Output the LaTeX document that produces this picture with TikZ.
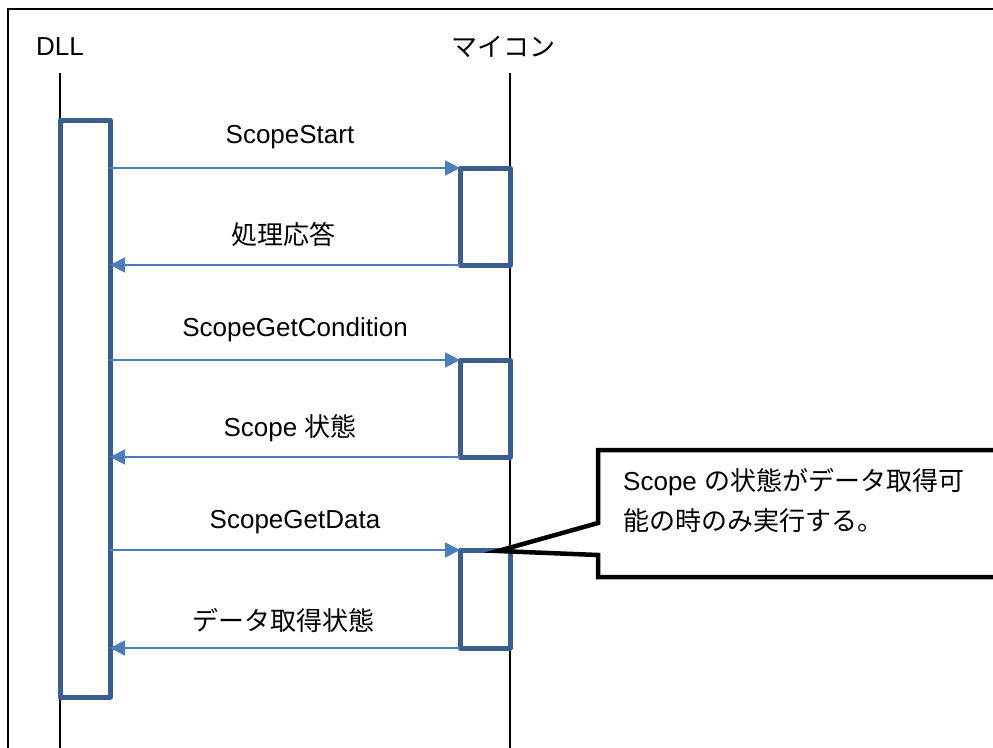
\documentclass[tikz,border=0pt]{standalone}
\usepackage{fontspec}
\setmainfont{Liberation Sans}
\newfontfamily\cjk{Noto Sans CJK JP}
\usetikzlibrary{arrows.meta}
\definecolor{actblue}{HTML}{3A5F8F}
\definecolor{msgblue}{HTML}{4A7EBB}
\tikzset{
  life/.style={line width=1.3pt, black},
  actbox/.style={draw=actblue, line width=5pt, fill=white, rectangle, inner sep=0pt, outer sep=0pt, minimum width=50pt, line join=round},
  msg/.style={draw=msgblue, line width=1.8pt, -{Triangle[length=15pt,width=15pt]}},
  lbl/.style={font=\fontsize{26}{40}\selectfont, inner sep=0pt},
  callout/.style={draw=black, line width=4.5pt, fill=white, line join=miter}
}
\begin{document}
\begin{tikzpicture}[x=1pt,y=-1pt]
\useasboundingbox (0,0) rectangle (993,747);
\clip (0,0) rectangle (993,747);
% frame
\draw[line width=2.2pt] (8,760) -- (8,9) -- (1000,9);
% headers
\node[lbl] (dll) at (60,47) {DLL};
\node[lbl] (mc) at (503,47) {\cjk マイコン};
% lifelines
\coordinate (dlltop) at (60,73);
\coordinate (dllbot) at (60,760);
\coordinate (mctop) at (510,73);
\coordinate (mcbot) at (510,760);
\draw[life] (dlltop) -- (dllbot);
\draw[life] (mctop) -- (mcbot);
% activation boxes
\node[actbox, minimum height=577pt] (dllact) at (85,408.5) {};
\node[actbox, minimum height=97pt] (mc1) at (485,216.5) {};
\node[actbox, minimum height=97pt] (mc2) at (485,408.5) {};
\node[actbox, minimum height=98pt] (mc3) at (485,599) {};
% messages
\draw[msg] (dllact.east |- mc1.north west) -- (mc1.north west);
\draw[msg] (mc1.south west) -- (dllact.east |- mc1.south west);
\draw[msg] (dllact.east |- mc2.north west) -- (mc2.north west);
\draw[msg] (mc2.south west) -- (dllact.east |- mc2.south west);
\draw[msg] (dllact.east |- mc3.north west) -- (mc3.north west);
\draw[msg] (mc3.south west) -- (dllact.east |- mc3.south west);
% labels
\node[lbl] (l1) at (290,137) {ScopeStart};
\node[lbl] (l2) at (283,234) {\cjk 処理応答};
\node[lbl] (l3) at (295,330) {ScopeGetCondition};
\node[lbl] (l4) at (290,428) {Scope {\cjk 状態}};
\node[lbl] (l5) at (295,522) {ScopeGetData};
\node[lbl] (l6) at (283,620) {\cjk データ取得状態};
% callout
\coordinate (tip) at (498,551);
\draw[callout] (598,450) -- (1005,450) -- (1005,577) -- (598,577) -- (598,555) -- (tip) -- (598,523) -- cycle;
\node[lbl, anchor=west, align=left] (note) at (623,500) {Scope {\cjk の状態がデータ取得可}\\{\cjk 能の時のみ実行する。}};
\end{tikzpicture}
\end{document}
